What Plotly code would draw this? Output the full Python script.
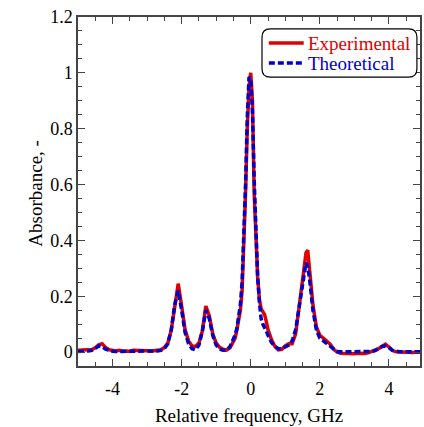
import plotly.graph_objects as go

# frequency grid (GHz)
freq = [-5.0, -4.9, -4.8, -4.7, -4.6, -4.5, -4.4, -4.3, -4.2, -4.1,
        -4.0, -3.9, -3.8, -3.7, -3.6, -3.5, -3.4, -3.3, -3.2, -3.1,
        -3.0, -2.9, -2.8, -2.7, -2.6, -2.5, -2.4, -2.3, -2.2, -2.1,
        -2.0, -1.9, -1.8, -1.7, -1.6, -1.5, -1.4, -1.3, -1.2, -1.1,
        -1.0, -0.9, -0.8, -0.7, -0.6, -0.5, -0.45, -0.4, -0.35, -0.3,
        -0.25, -0.2, -0.15, -0.1, -0.05, 0.0, 0.05, 0.1, 0.15, 0.2,
        0.25, 0.3, 0.35, 0.4, 0.45, 0.5, 0.6, 0.7, 0.8, 0.9,
        1.0, 1.1, 1.2, 1.3, 1.4, 1.5, 1.6, 1.65, 1.7, 1.8,
        1.9, 2.0, 2.1, 2.2, 2.3, 2.4, 2.5, 2.6, 2.7, 2.8,
        2.9, 3.0, 3.1, 3.2, 3.3, 3.4, 3.5, 3.6, 3.7, 3.8,
        3.9, 4.0, 4.1, 4.2, 4.3, 4.4, 4.5, 4.6, 4.7, 4.8, 4.9]

experimental = [0.006, 0.007, 0.005, 0.007, 0.009, 0.015, 0.026, 0.030, 0.016, 0.008,
                0.006, 0.004, 0.006, 0.003, 0.004, 0.002, 0.006, 0.006, 0.005, 0.007,
                0.005, 0.003, 0.004, 0.005, 0.008, 0.016, 0.032, 0.078, 0.165, 0.245,
                0.165, 0.080, 0.040, 0.022, 0.020, 0.032, 0.075, 0.165, 0.130, 0.065,
                0.032, 0.017, 0.010, 0.007, 0.015, 0.035, 0.050, 0.080, 0.110, 0.150,
                0.22, 0.38, 0.57, 0.80, 0.95, 1.0, 0.90, 0.57, 0.40, 0.27,
                0.19, 0.155, 0.145, 0.135, 0.11, 0.080, 0.045, 0.020, 0.008, 0.010,
                0.022, 0.030, 0.030, 0.065, 0.160, 0.255, 0.355, 0.365, 0.300, 0.170,
                0.090, 0.060, 0.050, 0.038, 0.028, 0.010, 0.000, -0.004, -0.005, -0.004,
                -0.005, -0.006, -0.004, -0.006, -0.005, -0.003, 0.002, 0.006, 0.012, 0.020,
                0.028, 0.018, 0.006, 0.001, 0.000, -0.001, 0.001, 0.000, -0.002, 0.000, -0.001]

theoretical = [0.002, 0.002, 0.003, 0.004, 0.006, 0.012, 0.022, 0.020, 0.010, 0.005,
               0.003, 0.002, 0.002, 0.002, 0.002, 0.002, 0.002, 0.002, 0.002, 0.002,
               0.002, 0.003, 0.003, 0.004, 0.006, 0.012, 0.030, 0.080, 0.170, 0.220,
               0.150, 0.070, 0.030, 0.012, 0.008, 0.025, 0.075, 0.150, 0.120, 0.060,
               0.025, 0.011, 0.006, 0.006, 0.020, 0.045, 0.062, 0.085, 0.120, 0.170,
               0.25, 0.40, 0.60, 0.84, 0.985, 0.98, 0.86, 0.62, 0.42, 0.27,
               0.18, 0.12, 0.10, 0.09, 0.075, 0.060, 0.035, 0.020, 0.012, 0.012,
               0.018, 0.025, 0.040, 0.080, 0.160, 0.250, 0.320, 0.305, 0.265, 0.150,
               0.080, 0.050, 0.040, 0.030, 0.020, 0.008, 0.002, 0.001, 0.001, 0.001,
               0.001, 0.001, 0.001, 0.001, 0.001, 0.001, 0.002, 0.005, 0.012, 0.020,
               0.022, 0.016, 0.006, 0.002, 0.001, 0.001, 0.001, 0.001, 0.001, 0.001, 0.001]

series_names = ["Experimental", "Theoretical"]
x_ticks = [-4, -2, 0, 2, 4]
x_labels = ["-4", "-2", "0", "2", "4"]
y_ticks = [0, 0.2, 0.4, 0.6, 0.8, 1, 1.2]
y_labels = ["0", "0.2", "0.4", "0.6", "0.8", "1", "1.2"]

RED = "#e00000"
BLUE = "#0000cc"
FONT = "Liberation Serif"

fig = go.Figure()
fig.add_trace(go.Scatter(x=freq, y=experimental, mode="lines", name=series_names[0],
                         line=dict(color=RED, width=3.5), showlegend=False))
fig.add_trace(go.Scatter(x=freq, y=theoretical, mode="lines", name=series_names[1],
                         line=dict(color=BLUE, width=3.5, dash="6px,3px"), showlegend=False))

ax = dict(showline=True, linecolor="#444", linewidth=1.5, mirror="ticks",
          ticks="inside", tickcolor="#444", ticklen=7, tickwidth=1,
          showgrid=False, zeroline=False,
          tickfont=dict(family=FONT, size=18, color="black"))

fig.update_xaxes(range=[-5, 4.9], tickvals=x_ticks, ticktext=x_labels,
                 minor=dict(dtick=0.5, ticks="inside", ticklen=4, tickcolor="#444"),
                 ticklabelstandoff=6,
                 title=dict(text="Relative frequency, GHz",
                            font=dict(family=FONT, size=19, color="black"), standoff=10),
                 **ax)
fig.update_yaxes(range=[-0.05, 1.2], tickvals=y_ticks, ticktext=y_labels,
                 minor=dict(dtick=0.05, ticks="inside", ticklen=4, tickcolor="#444"),
                 **ax)

# y title placed by hand
fig.add_annotation(text="Absorbance, -", xref="paper", yref="paper", x=-0.16, y=0.496,
                   textangle=-90, showarrow=False,
                   font=dict(family=FONT, size=19, color="black"))

# rounded legend frame
x0, x1, y0, y1, rx, ry = 0.538, 0.991, 0.828, 0.966, 0.024, 0.024
frame = ("M %f,%f L %f,%f Q %f,%f %f,%f L %f,%f Q %f,%f %f,%f L %f,%f Q %f,%f %f,%f "
         "L %f,%f Q %f,%f %f,%f Z") % (
    x0 + rx, y1, x1 - rx, y1, x1, y1, x1, y1 - ry, x1, y0 + ry, x1, y0, x1 - rx, y0,
    x0 + rx, y0, x0, y0, x0, y0 + ry, x0, y1 - ry, x0, y1, x0 + rx, y1)
fig.add_shape(type="path", xref="paper", yref="paper", path=frame,
              line=dict(color="black", width=1.2), fillcolor="white", layer="above")

# legend samples and labels
legend_rows = [(0.9255, RED, "solid"), (0.868, BLUE, "6px,3px")]
for name, (ly, col, dash) in zip(series_names, legend_rows):
    fig.add_shape(type="line", xref="paper", yref="paper", x0=0.558, x1=0.660, y0=ly, y1=ly,
                  line=dict(color=col, width=3.5, dash=dash), layer="above")
    fig.add_annotation(text=name, xref="paper", yref="paper", x=0.668, y=ly,
                       xanchor="left", yanchor="middle", showarrow=False,
                       font=dict(family=FONT, size=19, color=col))

fig.update_layout(
    width=424, height=427,
    margin=dict(l=78, r=2, t=17, b=61),
    paper_bgcolor="white", plot_bgcolor="white",
    font=dict(family=FONT, size=18, color="black"),
    showlegend=False,
)

fig.write_html("out.html", config={"displayModeBar": False},
               post_script="document.body.style.margin='0';")
